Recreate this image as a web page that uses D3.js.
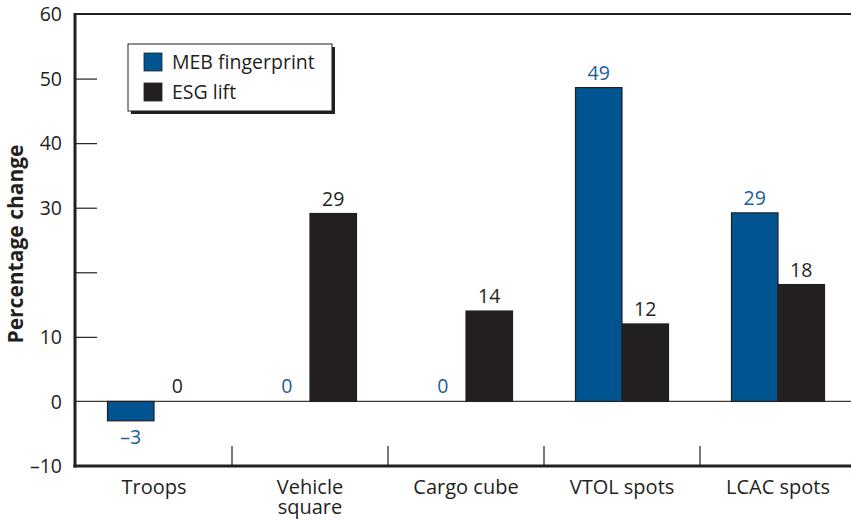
<!DOCTYPE html>
<html lang="en">
<head>
<meta charset="utf-8">
<title>Percentage change</title>
<script src="https://cdn.jsdelivr.net/npm/d3@7"></script>
<style>
  body { margin: 0; background: #fff; }
  text { font-family: "Open Sans", "Noto Sans", sans-serif; fill: #231f20; }
</style>
</head>
<body>
<div id="chart"></div>
<script>
// data (labels are the rounded values)
var categories = ["Troops", "Vehicle square", "Cargo cube", "VTOL spots", "LCAC spots"];
var series = ["MEB fingerprint", "ESG lift"];
var mebValues = [-3, 0, 0, 48.6, 29.2];
var esgValues = [0, 29.1, 14, 12, 18.1];
var yTicks = [-10, 0, 10, 20, 30, 40, 50, 60];
var yTickLabels = ["\u201310", "0", "10", "", "30", "40", "50", "60"];

var width = 851, height = 520;
var colors = {"MEB fingerprint": "#00548f", "ESG lift": "#231f20"};
var labelColors = {"MEB fingerprint": "#1b5e98", "ESG lift": "#231f20"};

var svg = d3.select("#chart")
  .append("svg")
    .attr("width", width)
    .attr("height", height);

var plotLeft = 75, plotTop = 14, plotBottom = 466, plotRight = 856;

var x = d3.scaleBand()
  .domain(categories)
  .range([plotLeft + 1, plotRight])
  .padding(0);

var x1 = d3.scaleBand()
  .domain(series)
  .range([0, 93]);

var y = d3.scaleLinear()
  .domain([-10, 60])
  .range([plotBottom, plotTop]);

var rows = categories.map(function(c, i) {
  return {category: c, values: [
    {key: series[0], value: mebValues[i]},
    {key: series[1], value: esgValues[i]}
  ]};
});

// y axis, ticks point inward
var yAxis = svg.append("g")
  .attr("transform", "translate(" + plotLeft + ",0)")
  .call(d3.axisLeft(y)
    .tickValues(yTicks)
    .tickSize(-22)
    .tickPadding(13)
    .tickFormat(function(d, i) { return yTickLabels[i]; }));
yAxis.select(".domain").remove();
yAxis.selectAll(".tick line")
  .attr("stroke", "#231f20")
  .attr("stroke-width", 1.2)
  .filter(function(d) { return d === -10 || d === 0 || d === 60; })
  .remove();
yAxis.selectAll(".tick text")
  .style("font-size", "19.5px")
  .attr("fill", "#231f20")
  .attr("dy", "0.35em");
yAxis.attr("font-family", null).attr("font-size", null);

// zero line
svg.append("line")
  .attr("x1", plotLeft).attr("x2", width)
  .attr("y1", y(0)).attr("y2", y(0))
  .attr("stroke", "#3a3a3a")
  .attr("stroke-width", 1.2);

// bars
var groups = svg.selectAll("g.cat")
  .data(rows)
  .enter()
  .append("g")
    .attr("class", "cat")
    .attr("transform", function(d) {
      return "translate(" + (x(d.category) + (x.bandwidth() - x1.range()[1]) / 2) + ",0)";
    });

groups.selectAll("rect")
  .data(function(d) { return d.values.filter(function(v) { return v.value !== 0; }); })
  .enter()
  .append("rect")
    .attr("x", function(d) { return x1(d.key); })
    .attr("y", function(d) { return y(Math.max(0, d.value)); })
    .attr("width", x1.bandwidth())
    .attr("height", function(d) { return Math.abs(y(d.value) - y(0)); })
    .attr("fill", function(d) { return colors[d.key]; })
    .attr("stroke", "#231f20")
    .attr("stroke-width", 1.2);

groups.selectAll("text.val")
  .data(function(d) { return d.values; })
  .enter()
  .append("text")
    .attr("class", "val")
    .attr("x", function(d) { return x1(d.key) + x1.bandwidth() / 2; })
    .attr("y", function(d) { return d.value < 0 ? y(d.value) + 23 : y(d.value) - 8; })
    .attr("text-anchor", "middle")
    .style("font-size", "19.5px")
    .style("fill", function(d) { return labelColors[d.key]; })
    .text(function(d) {
      var v = Math.round(d.value);
      return v < 0 ? "\u2013" + Math.abs(v) : v;
    });

// frame
svg.append("line")
  .attr("x1", plotLeft).attr("x2", width)
  .attr("y1", plotTop).attr("y2", plotTop)
  .attr("stroke", "#231f20").attr("stroke-width", 2);
svg.append("line")
  .attr("x1", plotLeft).attr("x2", plotLeft)
  .attr("y1", plotTop - 1).attr("y2", plotBottom + 1.5)
  .attr("stroke", "#231f20").attr("stroke-width", 3);
svg.append("line")
  .attr("x1", plotLeft - 1.5).attr("x2", width)
  .attr("y1", plotBottom).attr("y2", plotBottom)
  .attr("stroke", "#231f20").attr("stroke-width", 3);

// category separators
svg.selectAll("line.sep")
  .data(categories.slice(0, -1))
  .enter()
  .append("line")
    .attr("class", "sep")
    .attr("x1", function(d) { return x(d) + x.bandwidth(); })
    .attr("x2", function(d) { return x(d) + x.bandwidth(); })
    .attr("y1", plotBottom - 20).attr("y2", plotBottom)
    .attr("stroke", "#231f20")
    .attr("stroke-width", 1.2);

// category labels
var catLabels = svg.selectAll("text.cat")
  .data(categories)
  .enter()
  .append("text")
    .attr("class", "cat")
    .attr("text-anchor", "middle")
    .attr("x", function(d) { return x(d) + x.bandwidth() / 2; })
    .attr("y", 494)
    .style("font-size", "20px");
catLabels.each(function(d) {
  var el = d3.select(this);
  var parts = d === "Vehicle square" ? ["Vehicle", "square"] : [d];
  parts.forEach(function(p, i) {
    el.append("tspan")
      .attr("x", x(d) + x.bandwidth() / 2)
      .attr("dy", i === 0 ? 0 : 20)
      .text(p);
  });
});

// y title
svg.append("text")
  .attr("transform", "translate(23,244)rotate(-90)")
  .attr("text-anchor", "middle")
  .style("font-size", "21px")
  .style("font-weight", "bold")
  .text("Percentage change");

// legend
var legend = svg.append("g").attr("transform", "translate(128,44)");
legend.append("rect")
  .attr("x", 3).attr("y", 3)
  .attr("width", 204).attr("height", 67)
  .attr("fill", "#231f20");
legend.append("rect")
  .attr("width", 204).attr("height", 67)
  .attr("fill", "#fff")
  .attr("stroke", "#231f20")
  .attr("stroke-width", 1);
var items = legend.selectAll("g.item")
  .data(series)
  .enter()
  .append("g")
    .attr("class", "item")
    .attr("transform", function(d, i) { return "translate(16," + (9 + i * 30) + ")"; });
items.append("rect")
  .attr("width", 18).attr("height", 18)
  .attr("fill", function(d) { return colors[d]; })
  .attr("stroke", "#231f20")
  .attr("stroke-width", 0.8);
items.append("text")
  .attr("x", 28).attr("y", 16)
  .style("font-size", "19.5px")
  .text(function(d) { return d; });
</script>
</body>
</html>
